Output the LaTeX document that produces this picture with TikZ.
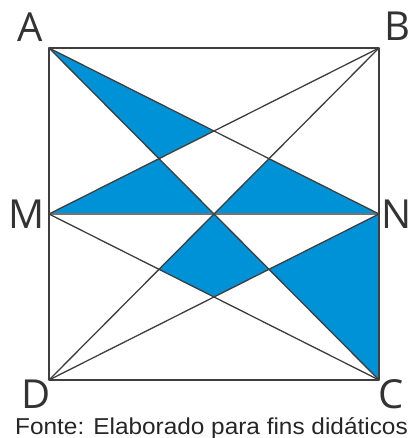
\documentclass[tikz,border=0pt]{standalone}
\usepackage{fontspec}
\usepackage{xcolor}
\usepackage{tikz}
\usetikzlibrary{positioning}
\newfontfamily\lblfont{Open Sans}
\newfontfamily\footfont[FakeStretch=1.06]{Liberation Sans}
\definecolor{fillblue}{RGB}{0,146,214}
\definecolor{edge}{RGB}{62,62,62}

\begin{document}
\begin{tikzpicture}[x=1pt,y=-1pt,
  lbl/.style={font=\lblfont\fontsize{40}{40}\selectfont,text=black!80,inner sep=0pt,anchor=base},
  seg/.style={draw=edge,line width=1.3pt,line join=round},
  reg/.style={fill=fillblue}]
  \useasboundingbox (0,0) rectangle (412,438);
  % the square and midpoints
  \coordinate (A) at (49,48);
  \coordinate (B) at (379,48);
  \coordinate (C) at (379,380);
  \coordinate (D) at (49,380);
  \coordinate (M) at (49,214);
  \coordinate (N) at (379,214);
  % crossing points
  \coordinate (P1) at (intersection of A--N and B--M);
  \coordinate (P2) at (intersection of A--C and B--M);
  \coordinate (O) at (intersection of A--C and B--D);
  \coordinate (Q) at (intersection of B--D and A--N);
  \coordinate (R) at (intersection of A--C and D--N);
  \coordinate (S) at (intersection of B--D and C--M);
  \coordinate (T) at (intersection of D--N and C--M);
  % shaded pieces
  \fill[reg] (A) -- (P1) -- (P2) -- cycle;
  \fill[reg] (M) -- (P2) -- (O) -- cycle;
  \fill[reg] (O) -- (Q) -- (N) -- cycle;
  \fill[reg] (O) -- (R) -- (T) -- (S) -- cycle;
  \fill[reg] (R) -- (N) -- (C) -- cycle;
  % the segments
  \draw[seg] (A) -- (B) -- (C) -- (D) -- cycle;
  \draw[seg,draw=black!55,line width=1.8pt] (M) -- (N);
  \draw[seg] (A) -- (C);
  \draw[seg] (B) -- (D);
  \draw[seg] (A) -- (N);
  \draw[seg] (B) -- (M);
  \draw[seg] (D) -- (N);
  \draw[seg] (C) -- (M);
  % vertex labels
  \node[lbl] (lA) at (30.5,42) {A};
  \node[lbl] (lB) at (397,41) {B};
  \node[lbl] (lM) at (26.5,228) {M};
  \node[lbl] (lN) at (396.5,228) {N};
  \node[lbl] (lD) at (36,408) {D};
  \node[lbl] (lC) at (391.5,408) {C};
  \node[font=\footfont\fontsize{23}{23}\selectfont,text=black!85,inner sep=0pt,anchor=base west]
    (src) at (15,434) {Fonte: Elaborado para fins didáticos};
\end{tikzpicture}
\end{document}
